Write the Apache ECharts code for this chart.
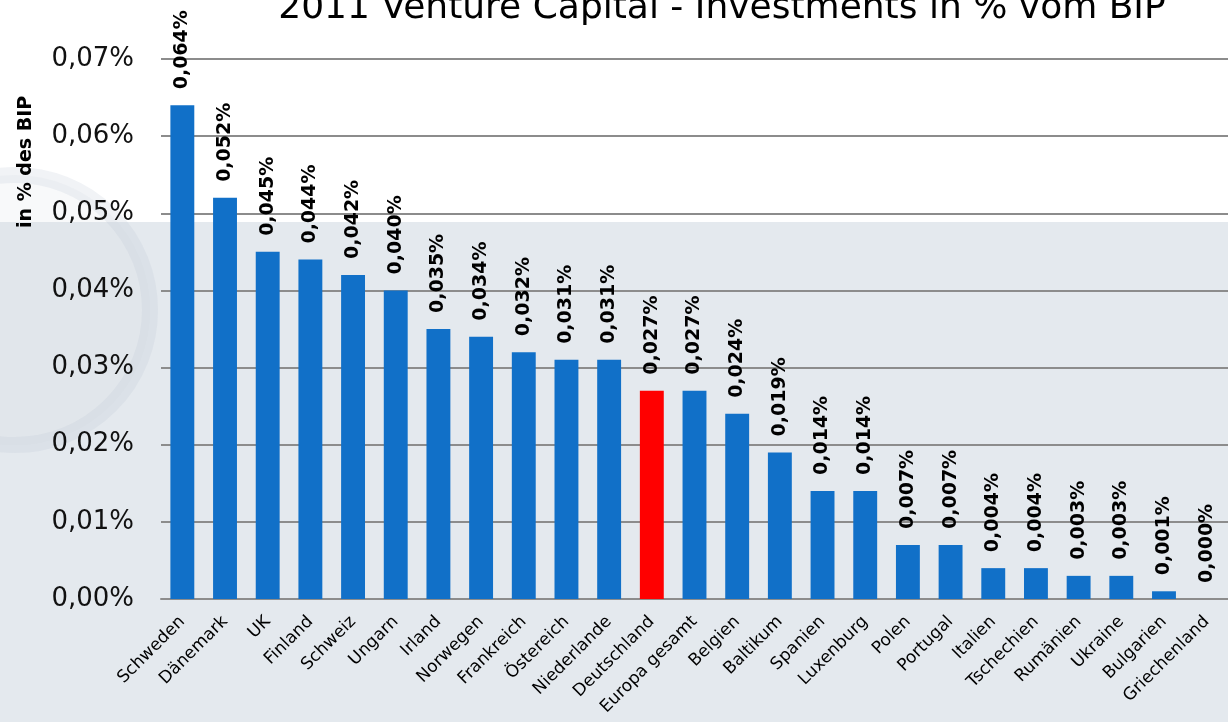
<!DOCTYPE html>
<html>
<head>
<meta charset="utf-8">
<script src="https://cdn.jsdelivr.net/npm/echarts@6/dist/echarts.min.js"></script>
<style>
  html, body { margin: 0; padding: 0; background: #fff; }
  #chart { width: 1228px; height: 722px; }
</style>
</head>
<body>
<div id="chart"></div>
<script>
// Länder und VC-Investments in % vom BIP (2011)
const countries = ['Schweden', 'Dänemark', 'UK', 'Finland', 'Schweiz', 'Ungarn', 'Irland', 'Norwegen',
  'Frankreich', 'Östereich', 'Niederlande', 'Deutschland', 'Europa gesamt', 'Belgien', 'Baltikum',
  'Spanien', 'Luxenburg', 'Polen', 'Portugal', 'Italien', 'Tschechien', 'Rumänien', 'Ukraine',
  'Bulgarien', 'Griechenland']
const values = [0.064, 0.052, 0.045, 0.044, 0.042, 0.040, 0.035, 0.034, 0.032, 0.031, 0.031, 0.027,
  0.027, 0.024, 0.019, 0.014, 0.014, 0.007, 0.007, 0.004, 0.004, 0.003, 0.003, 0.001, 0.000]
const highlight = 'Deutschland'

const font = 'DejaVu Sans'
const chart = echarts.init(document.getElementById('chart'))

chart.setOption({
  animation: false,
  textStyle: { fontFamily: font },
  title: {
    text: '2011 Venture Capital - Investments in % vom BIP',
    left: 717,
    textAlign: 'center',
    top: -14,
    textStyle: { fontFamily: font, fontSize: 36, fontWeight: 'normal', color: '#000' }
  },
  graphic: [
    // grauer Hintergrund unten
    { type: 'rect', z: -10, shape: { x: 0, y: 222, width: 1228, height: 500 }, style: { fill: '#e4e9ee' } },
    // blasses Siegel links
    { type: 'circle', z: -9, shape: { cx: 15, cy: 310, r: 135 }, style: { fill: 'rgba(205,212,222,0.15)', stroke: 'rgba(185,194,208,0.2)', lineWidth: 16 } },
    {
      type: 'text', z: 10,
      x: 36, y: 228, rotation: Math.PI / 2,
      style: { text: 'in % des BIP', fontFamily: font, fontSize: 19, fontWeight: 'bold', fill: '#000', align: 'left', verticalAlign: 'bottom' }
    }
  ],
  grid: { left: 161, right: 0, top: 59, bottom: 123 },
  xAxis: {
    type: 'category',
    data: countries,
    axisTick: { show: false },
    axisLine: { lineStyle: { color: '#8c8c8c', width: 2 } },
    axisLabel: { rotate: 45, interval: 0, fontSize: 17, color: '#000', margin: 20 }
  },
  yAxis: {
    type: 'value',
    min: 0,
    max: 0.07,
    interval: 0.01,
    axisLine: { show: false },
    axisTick: { show: false },
    splitLine: { lineStyle: { color: '#8c8c8c', width: 2 } },
    axisLabel: {
      fontSize: 26, color: '#111', margin: 27,
      formatter: v => v.toFixed(2).replace('.', ',') + '%'
    }
  },
  series: [{
    type: 'bar',
    barWidth: '56%',
    data: values.map((v, i) => ({
      value: v,
      itemStyle: { color: countries[i] === highlight ? '#ff0000' : '#1170c8' }
    })),
    label: {
      show: true,
      position: 'top',
      rotate: 90,
      align: 'left',
      verticalAlign: 'middle',
      distance: 16,
      fontSize: 19,
      fontWeight: 'bold',
      color: '#000',
      formatter: p => p.value.toFixed(3).replace('.', ',') + '%'
    }
  }]
})
</script>
</body>
</html>
